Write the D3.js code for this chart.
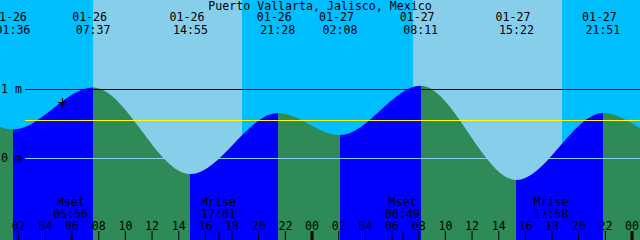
<!DOCTYPE html>
<html>
<head>
<meta charset="utf-8">
<script src="https://cdn.jsdelivr.net/npm/d3@7"></script>
<style>
  html, body { margin: 0; padding: 0; background: #fff; overflow: hidden; }
  svg { display: block; }
  text { font-family: "DejaVu Sans Mono", monospace; font-size: 11.6px; fill: #000; }
</style>
</head>
<body>
<div id="chart"></div>
<script>
// ---- data ----
const title = "Puerto Vallarta, Jalisco, Mexico";
const spanStart = "2025-01-26 00:38";
const spanEnd = "2025-01-28 00:38";

// high / low tide events
const tideTimes = ["2025-01-26 01:36", "2025-01-26 07:37", "2025-01-26 14:55", "2025-01-26 21:28",
                   "2025-01-27 02:08", "2025-01-27 08:11", "2025-01-27 15:22", "2025-01-27 21:51"];
const tideLevels = [0.42, 1.03, -0.225, 0.66, 0.34, 1.055, -0.31, 0.66];
// water level at the left and right edge of the window
const edgeLevels = [0.46, 0.44];

// sunrise, sunset, sunrise, sunset
const sunTimes = ["2025-01-26 07:36", "2025-01-26 18:46", "2025-01-27 07:35", "2025-01-27 18:46"];

const moonNames = ["Mset", "Mrise", "Mset", "Mrise"];
const moonTimes = ["2025-01-26 05:56", "2025-01-26 17:01", "2025-01-27 06:49", "2025-01-27 17:58"];

const levelTicks = [1, 0];
const meanLevel = 0.55;
const nowTime = "2025-01-26 05:19";
const nowLevel = 0.82;

// ---- chart ----
const width = 640, height = 240;
const parse = d3.utcParse("%Y-%m-%d %H:%M");
const fmtDate = d3.utcFormat("%m-%d");
const fmtTime = d3.utcFormat("%H:%M");

const t0 = parse(spanStart), t1 = parse(spanEnd);
const x = d3.scaleUtc().domain([t0, t1]).range([0, width]);
const y = d3.scaleLinear().domain([0, 1]).range([158.5, 89.5]);

const svg = d3.select("#chart").append("svg")
    .attr("width", width)
    .attr("height", height);

// sky: night / day bands
const skyEdges = [t0].concat(sunTimes.map(parse), [t1]);
for (let i = 0; i < skyEdges.length - 1; i++) {
    svg.append("rect")
        .attr("x", Math.round(x(skyEdges[i])))
        .attr("y", 0)
        .attr("width", Math.round(x(skyEdges[i + 1])) - Math.round(x(skyEdges[i])))
        .attr("height", height)
        .attr("fill", i % 2 === 0 ? "#00bfff" : "#87ceeb")
        .attr("shape-rendering", "crispEdges");
}

// water curve
let pts = [{t: t0, v: edgeLevels[0]}];
tideTimes.forEach((d, i) => pts.push({t: parse(d), v: tideLevels[i]}));
pts.push({t: t1, v: edgeLevels[1]});

const area = d3.area()
    .x(d => x(d.t))
    .y0(height)
    .y1(d => y(d.v))
    .curve(d3.curveMonotoneX);

svg.append("clipPath").attr("id", "water")
    .append("path").attr("d", area(pts));

let water = svg.append("g").attr("clip-path", "url(#water)");
for (let i = 0; i < pts.length - 1; i++) {
    let xa = Math.round(x(pts[i].t)), xb = Math.round(x(pts[i + 1].t));
    water.append("rect")
        .attr("x", xa)
        .attr("y", 0)
        .attr("width", xb - xa)
        .attr("height", height)
        .attr("fill", pts[i + 1].v > pts[i].v ? "#0000ff" : "#2e8b57")   // flood / ebb
        .attr("shape-rendering", "crispEdges");
}

// level lines
levelTicks.forEach(v => {
    svg.append("line")
        .attr("x1", 25).attr("x2", width)
        .attr("y1", y(v)).attr("y2", y(v))
        .attr("stroke", v === 0 ? "#87ceeb" : "#000")
        .attr("shape-rendering", "crispEdges");
    svg.append("text")
        .attr("x", 1)
        .attr("y", y(v) + 3.5)
        .text(v + " m");
});
svg.append("line")
    .attr("x1", 25).attr("x2", width)
    .attr("y1", y(meanLevel)).attr("y2", y(meanLevel))
    .attr("stroke", "#ffff00")
    .attr("shape-rendering", "crispEdges");

// current time marker
let nx = Math.round(x(parse(nowTime))) + 0.5, ny = Math.round(y(nowLevel)) + 0.5;
svg.append("path")
    .attr("d", `M${nx - 4.5},${ny}H${nx + 4.5}M${nx},${ny - 4.5}V${ny + 4.5}`)
    .attr("stroke", "#000")
    .attr("fill", "none");

// title
svg.append("text")
    .attr("x", width / 2)
    .attr("y", 9.5)
    .style("text-anchor", "middle")
    .text(title);

// tide event labels along the top
tideTimes.forEach(d => {
    let t = parse(d);
    svg.append("text")
        .attr("x", x(t) - 3.5)
        .attr("y", 21)
        .style("text-anchor", "middle")
        .text(fmtDate(t));
    svg.append("text")
        .attr("x", x(t))
        .attr("y", 33.5)
        .style("text-anchor", "middle")
        .text(fmtTime(t));
});

// moon events
moonTimes.forEach((d, i) => {
    let t = parse(d);
    svg.append("text")
        .attr("x", x(t))
        .attr("y", 206)
        .style("text-anchor", "middle")
        .text(moonNames[i]);
    svg.append("text")
        .attr("x", x(t))
        .attr("y", 217.5)
        .style("text-anchor", "middle")
        .text(fmtTime(t));
});

// hour axis along the bottom
let hourAxis = svg.append("g")
    .attr("transform", `translate(0,${height})`)
    .call(d3.axisTop(x)
        .ticks(d3.utcHour.every(2))
        .tickFormat(d3.utcFormat("%H"))
        .tickSize(9)
        .tickPadding(1));
hourAxis.select(".domain").remove();
hourAxis.attr("font-family", null).attr("font-size", null);
hourAxis.selectAll(".tick line")
    .attr("stroke", "#000")
    .attr("stroke-width", d => d.getUTCHours() === 0 ? 3 : 1);

let moonAxis = svg.append("g")
    .attr("transform", `translate(0,${height})`)
    .call(d3.axisTop(x)
        .tickValues(moonTimes.map(parse))
        .tickFormat("")
        .tickSize(9));
moonAxis.select(".domain").remove();
moonAxis.selectAll(".tick line").attr("stroke", "#000");
</script>
</body>
</html>
